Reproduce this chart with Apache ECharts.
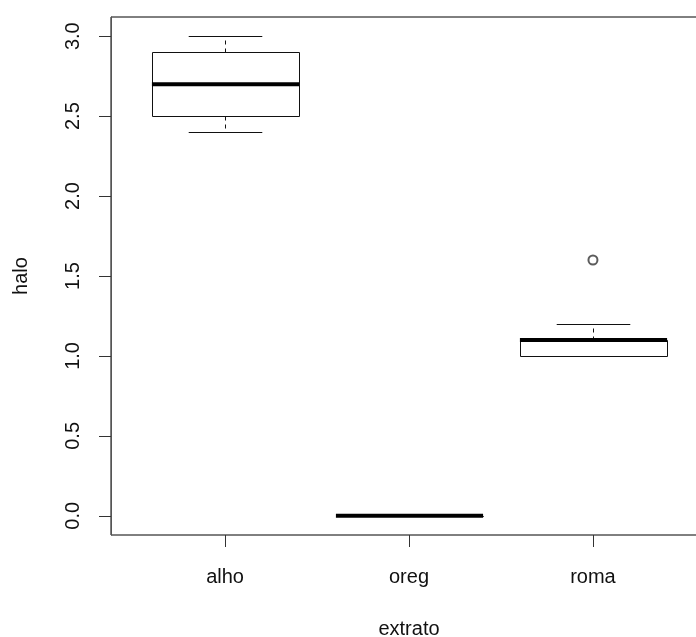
<!DOCTYPE html>
<html>
<head>
<meta charset="utf-8">
<script src="https://cdn.jsdelivr.net/npm/echarts@6/dist/echarts.min.js"></script>
<style>
  html, body { margin: 0; padding: 0; background: #fff; }
  #main { width: 696px; height: 637px; }
</style>
</head>
<body>
<div id="main"></div>
<script>
const categories = ['alho', 'oreg', 'roma'];
const lowWhisker = [2.4, 0, 1.0];
const q1 = [2.5, 0, 1.0];
const median = [2.7, 0, 1.1];
const q3 = [2.9, 0, 1.1];
const highWhisker = [3.0, 0, 1.2];
const outlierCat = ['roma'];
const outlierVal = [1.6];
const yTicks = [0, 0.5, 1.0, 1.5, 2.0, 2.5, 3.0];
const xTicks = [1, 2, 3];

const font = 'Liberation Sans, Arial, sans-serif';
const boxData = categories.map((c, k) => [k + 1, lowWhisker[k], q1[k], median[k], q3[k], highWhisker[k]]);
const outData = outlierCat.map((c, k) => [categories.indexOf(c) + 1, outlierVal[k]]);

const crisp = (v) => Math.round(v) + 0.5;

function renderBox(params, api) {
  const x = api.value(0);
  const half = api.size([0.8, 0])[0] / 2;
  const capHalf = api.size([0.4, 0])[0] / 2;
  const cx = crisp(api.coord([x, 0])[0]);
  const y = (k) => api.coord([x, api.value(k)])[1];
  const yLo = crisp(y(1)), yQ1 = crisp(y(2)), yMed = y(3), yQ3 = crisp(y(4)), yHi = crisp(y(5));
  const thin = { stroke: '#111', lineWidth: 1, fill: null };
  const dashed = { stroke: '#111', lineWidth: 1, lineDash: [4, 4] };
  return {
    type: 'group',
    children: [
      { type: 'line', shape: { x1: cx, y1: yQ3, x2: cx, y2: yHi }, style: dashed },
      { type: 'line', shape: { x1: cx, y1: yQ1, x2: cx, y2: yLo }, style: dashed },
      { type: 'line', shape: { x1: cx - capHalf, y1: yHi, x2: cx + capHalf, y2: yHi }, style: thin },
      { type: 'line', shape: { x1: cx - capHalf, y1: yLo, x2: cx + capHalf, y2: yLo }, style: thin },
      { type: 'rect', shape: { x: Math.round(cx - half) + 0.5, y: yQ3, width: Math.round(half * 2), height: yQ1 - yQ3 }, style: { stroke: '#111', lineWidth: 1, fill: '#fff' } },
      { type: 'line', shape: { x1: cx - half, y1: yMed, x2: cx + half, y2: yMed }, style: { stroke: '#000', lineWidth: 4 } }
    ]
  };
}

const chart = echarts.init(document.getElementById('main'));
chart.setOption({
  backgroundColor: '#fff',
  animation: false,
  grid: { left: 111, top: 17, width: 596, height: 518, containLabel: false, outerBoundsMode: 'none',
    show: true, borderColor: '#000', borderWidth: 1, backgroundColor: 'transparent' },
  xAxis: {
    type: 'value', min: 0.38, max: 3.62,
    name: 'extrato', nameLocation: 'middle', nameGap: 84,
    nameTextStyle: { fontFamily: font, fontSize: 20, color: '#111' },
    splitLine: { show: false },
    axisLine: { show: false, onZero: false },
    axisTick: { show: true, length: 12, customValues: xTicks, lineStyle: { color: '#333' } },
    axisLabel: { fontFamily: font, fontSize: 20, color: '#111', margin: 32, customValues: xTicks,
      formatter: (v) => categories[Math.round(v) - 1] || '' }
  },
  yAxis: {
    type: 'value', min: -0.12, max: 3.12,
    name: 'halo', nameLocation: 'middle', nameGap: 80, nameRotate: 90,
    nameTextStyle: { fontFamily: font, fontSize: 20, color: '#111' },
    splitLine: { show: false },
    axisLine: { show: true, onZero: false, lineStyle: { color: '#555' } },
    axisTick: { show: true, length: 12, customValues: yTicks, lineStyle: { color: '#333' } },
    axisLabel: { fontFamily: font, fontSize: 20, color: '#111', margin: 28, rotate: 90, customValues: yTicks,
      formatter: (v) => v.toFixed(1) }
  },
  series: [
    { type: 'custom', renderItem: renderBox, data: boxData, encode: { x: 0, y: [1, 2, 3, 4, 5] }, z: 2 },
    { type: 'scatter', data: outData, symbol: 'emptyCircle', symbolSize: 9,
      itemStyle: { color: '#333', borderWidth: 1 }, z: 3 }
  ]
});
</script>
</body>
</html>
